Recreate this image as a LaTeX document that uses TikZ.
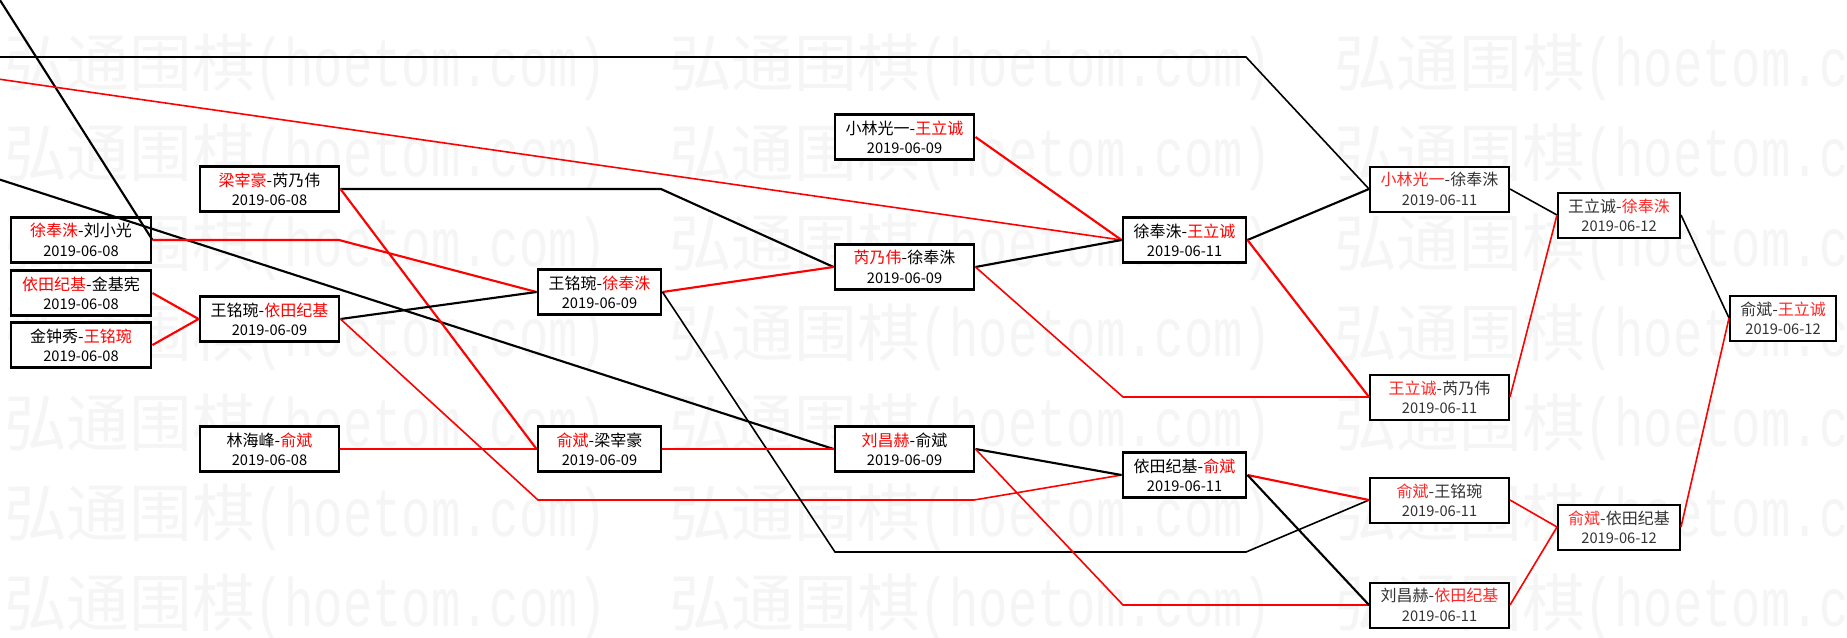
\documentclass[tikz,border=0pt]{standalone}
\usepackage{fontspec}
\setmainfont{Noto Sans CJK SC}
\newfontfamily\wmfont{Liberation Mono}
\usepackage{tikz}
\colorlet{wincol}{red}
\newcommand{\win}[1]{\textcolor{wincol}{#1}}
\newcommand{\mdate}[1]{{\fontsize{11}{14.5}\selectfont #1}}

\begin{document}
\begin{tikzpicture}[x=0.75pt, y=-0.75pt,
    game/.style={draw, fill=white, line width=2.2pt, minimum height=33.75pt, inner sep=0pt, align=center, font=\fontsize{12}{14.5}\selectfont},
    late/.style={game, line width=1.5pt, text=black!80, font=\fontsize{12}{14.5}\selectfont\colorlet{wincol}{red!85}},
    wline/.style={red, line width=1.6pt},
    lline/.style={black, line width=1.6pt},
    slim/.style={line width=1.2pt},
    wmark/.style={text=black!4, inner sep=0pt, anchor=west}]
      \useasboundingbox (0, 0) rectangle (1847, 637);
      \fill[white] (0, 0) rectangle (1847, 637);
      \foreach \r in {0,...,6}
        \foreach \c in {0,1,2}
          \node[wmark] (wm\r\c) at (4+665*\c, 67+90*\r) {\fontsize{47}{47}\selectfont 弘通围棋\scalebox{1}[1.4]{\wmfont\fontsize{36.7}{40}\selectfont (hoetom.com)}};

      \node[game, minimum width=105pt] (a1) at (81, 240) {\win{徐奉洙}-刘小光\\\mdate{2019-06-08}};
      \node[game, minimum width=105pt] (a2) at (81, 293) {\win{依田纪基}-金基宪\\\mdate{2019-06-08}};
      \node[game, minimum width=105pt] (a3) at (81, 345) {金钟秀-\win{王铭琬}\\\mdate{2019-06-08}};
      \node[game, minimum width=104.25pt] (b1) at (269.5, 189) {\win{梁宰豪}-芮乃伟\\\mdate{2019-06-08}};
      \node[game, minimum width=104.25pt] (b2) at (269.5, 319) {王铭琬-\win{依田纪基}\\\mdate{2019-06-09}};
      \node[game, minimum width=104.25pt] (b3) at (269.5, 449) {林海峰-\win{俞斌}\\\mdate{2019-06-08}};
      \node[game, minimum width=92.25pt] (c1) at (599.5, 292) {王铭琬-\win{徐奉洙}\\\mdate{2019-06-09}};
      \node[game, minimum width=92.25pt] (c2) at (599.5, 449) {\win{俞斌}-梁宰豪\\\mdate{2019-06-09}};
      \node[game, minimum width=104.25pt] (d1) at (904.5, 137) {小林光一-\win{王立诚}\\\mdate{2019-06-09}};
      \node[game, minimum width=104.25pt] (d2) at (904.5, 267) {\win{芮乃伟}-徐奉洙\\\mdate{2019-06-09}};
      \node[game, minimum width=104.25pt] (d3) at (904.5, 449) {\win{刘昌赫}-俞斌\\\mdate{2019-06-09}};
      \node[game, minimum width=92.25pt] (e1) at (1184.5, 240) {徐奉洙-\win{王立诚}\\\mdate{2019-06-11}};
      \node[game, minimum width=92.25pt] (e2) at (1184.5, 475) {依田纪基-\win{俞斌}\\\mdate{2019-06-11}};
      \node[late, minimum width=104.25pt] (f1) at (1439.5, 189) {\win{小林光一}-徐奉洙\\\mdate{2019-06-11}};
      \node[late, minimum width=104.25pt] (f2) at (1439.5, 397) {\win{王立诚}-芮乃伟\\\mdate{2019-06-11}};
      \node[late, minimum width=104.25pt] (f3) at (1439.5, 500) {\win{俞斌}-王铭琬\\\mdate{2019-06-11}};
      \node[late, minimum width=104.25pt] (f4) at (1439.5, 605) {刘昌赫-\win{依田纪基}\\\mdate{2019-06-11}};
      \node[late, minimum width=91.5pt] (g1) at (1619, 215) {王立诚-\win{徐奉洙}\\\mdate{2019-06-12}};
      \node[late, minimum width=91.5pt] (g2) at (1619, 527) {\win{俞斌}-依田纪基\\\mdate{2019-06-12}};
      \node[late, minimum width=79.5pt] (h1) at (1783, 318) {俞斌-\win{王立诚}\\\mdate{2019-06-12}};

      \coordinate (in1) at (-2, -3);
      \coordinate (in2) at (-2, 57);
      \coordinate (in3) at (-2, 79);
      \coordinate (in4) at (-2, 179);
      \draw[lline] (in1) -- (a1.east);
      \draw[lline, slim] (in2) -- (1246, 57) -- (f1.west);
      \draw[wline, slim] (in3) -- (e1.west);
      \draw[lline] (in4) -- (d3.west);
      \draw[wline] (a1.east) -- (339, 240) -- (c1.west);
      \draw[wline] (a2.east) -- (b2.west);
      \draw[wline] (a3.east) -- (b2.west);
      \draw[lline] (b1.east) -- (661, 189) -- (d2.west);
      \draw[wline] (b1.east) -- (c2.west);
      \draw[lline] (b2.east) -- (c1.west);
      \draw[wline, slim] (b2.east) -- (538, 500) -- (974, 500) -- (e2.west);
      \draw[wline] (b3.east) -- (c2.west);
      \draw[wline] (c1.east) -- (d2.west);
      \draw[lline, slim] (c1.east) -- (835, 552) -- (1246, 552) -- (f3.west);
      \draw[wline] (c2.east) -- (d3.west);
      \draw[wline] (d1.east) -- (e1.west);
      \draw[lline] (d2.east) -- (e1.west);
      \draw[wline, slim] (d2.east) -- (1123, 397) -- (f2.west);
      \draw[lline] (d3.east) -- (e2.west);
      \draw[wline, slim] (d3.east) -- (1123, 605) -- (f4.west);
      \draw[lline] (e1.east) -- (f1.west);
      \draw[wline] (e1.east) -- (f2.west);
      \draw[wline] (e2.east) -- (f3.west);
      \draw[lline] (e2.east) -- (f4.west);
      \draw[lline, slim] (f1.east) -- (g1.west);
      \draw[wline, slim] (f2.east) -- (g1.west);
      \draw[wline, slim] (f3.east) -- (g2.west);
      \draw[wline, slim] (f4.east) -- (g2.west);
      \draw[lline, slim] (g1.east) -- (h1.west);
      \draw[wline, slim] (g2.east) -- (h1.west);
\end{tikzpicture}
\end{document}
